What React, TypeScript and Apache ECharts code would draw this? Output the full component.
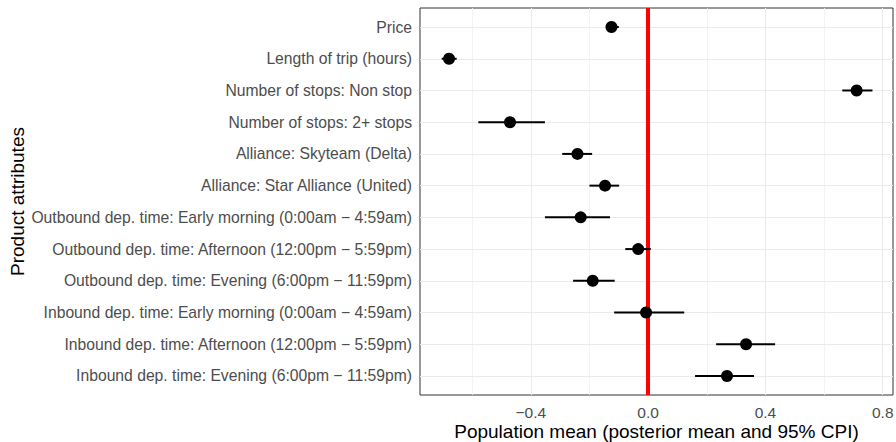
import React, { useEffect, useRef } from 'react';
import * as echarts from 'echarts';

const categories = [
  'Price',
  'Length of trip (hours)',
  'Number of stops: Non stop',
  'Number of stops: 2+ stops',
  'Alliance: Skyteam (Delta)',
  'Alliance: Star Alliance (United)',
  'Outbound dep. time: Early morning (0:00am \u2212 4:59am)',
  'Outbound dep. time: Afternoon (12:00pm \u2212 5:59pm)',
  'Outbound dep. time: Evening (6:00pm \u2212 11:59pm)',
  'Inbound dep. time: Early morning (0:00am \u2212 4:59am)',
  'Inbound dep. time: Afternoon (12:00pm \u2212 5:59pm)',
  'Inbound dep. time: Evening (6:00pm \u2212 11:59pm)',
];
const means = [-0.125, -0.679, 0.711, -0.471, -0.241, -0.147, -0.23, -0.034, -0.189, -0.007, 0.334, 0.269];
const lower = [-0.141, -0.704, 0.662, -0.579, -0.293, -0.2, -0.352, -0.078, -0.256, -0.116, 0.232, 0.16];
const upper = [-0.1, -0.653, 0.765, -0.352, -0.191, -0.099, -0.13, 0.009, -0.114, 0.123, 0.433, 0.361];
const xTicks = [-0.4, 0, 0.4, 0.8];
const xMinorGrid = [-0.6, -0.2, 0.2, 0.6];
const referenceLine = 0;
const xMin = -0.778;
const xMax = 0.835;

const FONT = '"Liberation Sans", Arial, Helvetica, sans-serif';

export default function App() {
  const ref = useRef<HTMLDivElement>(null);
  useEffect(() => {
    if (!ref.current) return;
    const chart = echarts.init(ref.current, undefined, { renderer: 'svg' });
    const idx = categories.map((_, i) => i);
    const gridLines: any[] = [
      ...xTicks.map((v) => ({ xAxis: v, lineStyle: { color: '#EBEBEB', width: 1.1, type: 'solid' } })),
      ...xMinorGrid.map((v) => ({ xAxis: v, lineStyle: { color: '#F0F0F0', width: 0.8, type: 'solid' } })),
      ...idx.map((i) => ({ yAxis: i, lineStyle: { color: '#EBEBEB', width: 1.1, type: 'solid' } })),
    ];
    chart.setOption({
      animation: false,
      backgroundColor: '#FFFFFF',
      textStyle: { fontFamily: FONT },
      grid: {
        left: 420,
        right: 3,
        top: 8,
        bottom: 47,
        show: true,
        borderColor: '#333333',
        borderWidth: 1,
        backgroundColor: '#FFFFFF',
        containLabel: false,
        outerBoundsMode: 'none',
      },
      xAxis: {
        type: 'value',
        min: xMin,
        max: xMax,
        axisLine: { show: false },
        splitLine: { show: false },
        axisTick: { show: true, customValues: xTicks, length: 4, lineStyle: { color: '#333333', width: 1 } },
        axisLabel: {
          customValues: xTicks,
          color: '#4D4D4D',
          fontSize: 15.5,
          fontFamily: FONT,
          margin: 9,
          formatter: (v: number) => (v < 0 ? '\u2212' : '') + Math.abs(v).toFixed(1),
        },
        name: 'Population mean (posterior mean and 95% CPI)',
        nameLocation: 'middle',
        nameGap: 27,
        nameMoveOverlap: false,
        nameTextStyle: { color: '#000000', fontSize: 19, fontFamily: FONT },
      },
      yAxis: {
        type: 'value',
        inverse: true,
        min: -0.6,
        max: 11.6,
        axisLine: { show: false },
        splitLine: { show: false },
        axisTick: { show: true, customValues: idx, length: 4, lineStyle: { color: '#333333', width: 1 } },
        axisLabel: {
          customValues: idx,
          color: '#4D4D4D',
          fontSize: 15.7,
          fontFamily: FONT,
          margin: 8,
          formatter: (v: number) => categories[Math.round(v)] ?? '',
        },
        name: 'Product attributes',
        nameLocation: 'middle',
        nameGap: 393,
        nameMoveOverlap: false,
        nameRotate: 90,
        nameTextStyle: { color: '#000000', fontSize: 19, fontFamily: FONT },
      },
      series: [
        {
          type: 'scatter',
          data: [],
          silent: true,
          z: 1,
          markLine: {
            silent: true,
            symbol: 'none',
            z: 1,
            label: { show: false },
            emphasis: { disabled: true },
            data: gridLines,
          },
        },
        {
          type: 'scatter',
          data: [],
          silent: true,
          z: 2,
          markLine: {
            silent: true,
            symbol: 'none',
            z: 2,
            label: { show: false },
            emphasis: { disabled: true },
            data: [{ xAxis: referenceLine, lineStyle: { color: '#FF0000', width: 4, type: 'solid' } }],
          },
        },
        {
          type: 'custom',
          z: 3,
          silent: true,
          data: idx.map((i) => [lower[i], upper[i], i]),
          encode: { x: [0, 1], y: 2 },
          renderItem: (params: any, api: any) => {
            const s = api.coord([api.value(0), api.value(2)]);
            const e = api.coord([api.value(1), api.value(2)]);
            return {
              type: 'line',
              shape: { x1: s[0], y1: s[1], x2: e[0], y2: e[1] },
              style: { stroke: '#000000', lineWidth: 2 },
            };
          },
        },
        {
          type: 'scatter',
          z: 4,
          silent: true,
          symbol: 'circle',
          symbolSize: 12,
          itemStyle: { color: '#000000', opacity: 1 },
          data: idx.map((i) => [means[i], i]),
        },
      ],
    });
    return () => chart.dispose();
  }, []);
  return <div ref={ref} style={{ position: 'fixed', left: 0, top: 0, width: 896, height: 442 }} />;
}
